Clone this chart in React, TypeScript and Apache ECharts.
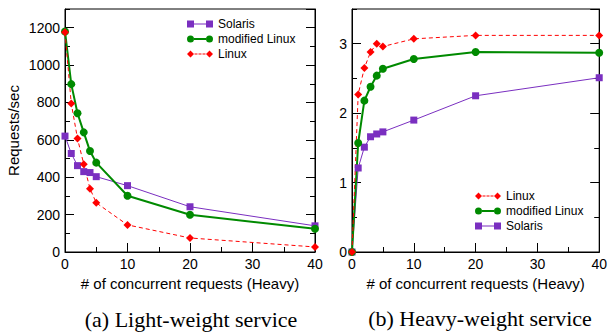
import React, { useEffect, useRef } from "react";
import * as echarts from "echarts";

const xValues = [0, 1, 2, 3, 4, 5, 10, 20, 40];
const lightSolaris = [620, 527, 462, 430, 425, 403, 355, 242, 140];
const lightModified = [1180, 898, 742, 640, 540, 478, 301, 199, 124];
const lightLinux = [1175, 795, 607, 470, 339, 263, 145, 75, 27];
const heavyLinux = [0, 2.27, 2.65, 2.88, 3.0, 2.96, 3.07, 3.12, 3.12];
const heavyModified = [0, 1.57, 2.18, 2.38, 2.54, 2.64, 2.78, 2.88, 2.87];
const heavySolaris = [0, 1.21, 1.51, 1.66, 1.7, 1.73, 1.9, 2.25, 2.51];

const xTitle = "# of concurrent requests (Heavy)";
const yTitle = "Requests/sec";
const captionA = "(a) Light-weight service";
const captionB = "(b) Heavy-weight service";

const PURPLE = "#7a2fc0";
const GREEN = "#008a00";
const RED = "#ff0000";
const FONT = "Liberation Sans";

const iconSolaris = "path://M0,0h7v7h-7zM19,0h7v7h-7zM7,3h12v1h-12z";
const iconModified =
  "path://M0,3.5a3.5,3.5,0,1,0,7,0a3.5,3.5,0,1,0,-7,0zM19,3.5a3.5,3.5,0,1,0,7,0a3.5,3.5,0,1,0,-7,0zM7,2.6h12v1.8h-12z";
const iconLinux =
  "path://M3.5,0L7,3.5L3.5,7L0,3.5zM22.5,0L26,3.5L22.5,7L19,3.5zM7.5,3h3v1h-3zM11.5,3h3v1h-3zM15.5,3h3v1h-3z";

const zip = (ys: number[]) => xValues.map((x, i) => [x, ys[i]]);
const plain = (v: number) => String(v);

function xAxes(grid: number) {
  return [
    {
      gridIndex: grid,
      type: "value",
      min: 0,
      max: 40,
      interval: 10,
      position: "bottom",
      axisLine: { show: true, lineStyle: { color: "#000", width: 1 } },
      axisTick: { show: true, inside: true, length: 9, lineStyle: { color: "#000" } },
      axisLabel: { color: "#000", fontSize: 14, fontFamily: FONT, margin: 5, formatter: plain },
      splitLine: { show: false },
      name: xTitle,
      nameLocation: "middle",
      nameGap: 22,
      nameTextStyle: { color: "#000", fontSize: 15, fontFamily: FONT },
    },
    {
      gridIndex: grid,
      type: "value",
      min: 0,
      max: 40,
      interval: 5,
      position: "bottom",
      axisLine: { show: false },
      axisTick: { show: true, inside: true, length: 5, lineStyle: { color: "#000" } },
      axisLabel: { show: false },
      splitLine: { show: false },
    },
  ];
}

function yAxes(grid: number, max: number, major: number, minor: number, withName: boolean) {
  const base = {
    gridIndex: grid,
    type: "value",
    min: 0,
    max,
    splitLine: { show: false },
  };
  return [
    {
      ...base,
      interval: major,
      position: "left",
      axisLine: { show: true, lineStyle: { color: "#000", width: 1 } },
      axisTick: { show: true, inside: true, length: 9, lineStyle: { color: "#000" } },
      axisLabel: {
        color: "#000",
        fontSize: 14,
        fontFamily: FONT,
        margin: 5,
        showMaxLabel: false,
        formatter: plain,
      },
      ...(withName
        ? {
            name: yTitle,
            nameLocation: "middle",
            nameGap: 44,
            nameTextStyle: { color: "#000", fontSize: 15, fontFamily: FONT },
          }
        : {}),
    },
    {
      ...base,
      interval: minor,
      position: "left",
      axisLine: { show: false },
      axisTick: { show: true, inside: true, length: 5, lineStyle: { color: "#000" } },
      axisLabel: { show: false },
    },
    {
      ...base,
      interval: major,
      position: "right",
      axisLine: { show: true, lineStyle: { color: "#000", width: 1 } },
      axisTick: { show: true, inside: true, length: 9, lineStyle: { color: "#000" } },
      axisLabel: { show: false },
    },
    {
      ...base,
      interval: minor,
      position: "right",
      axisLine: { show: false },
      axisTick: { show: true, inside: true, length: 5, lineStyle: { color: "#000" } },
      axisLabel: { show: false },
    },
  ];
}

function solaris(xi: number, yi: number, ys: number[]) {
  return {
    name: "Solaris",
    type: "line",
    xAxisIndex: xi,
    yAxisIndex: yi,
    data: zip(ys),
    symbol: "rect",
    symbolSize: 7,
    lineStyle: { color: PURPLE, width: 1 },
    itemStyle: { color: PURPLE },
  };
}
function modified(xi: number, yi: number, ys: number[]) {
  return {
    name: "modified Linux",
    type: "line",
    xAxisIndex: xi,
    yAxisIndex: yi,
    data: zip(ys),
    symbol: "circle",
    symbolSize: 8,
    lineStyle: { color: GREEN, width: 2 },
    itemStyle: { color: GREEN },
  };
}
function linux(xi: number, yi: number, ys: number[]) {
  return {
    name: "Linux",
    type: "line",
    xAxisIndex: xi,
    yAxisIndex: yi,
    data: zip(ys),
    symbol: "diamond",
    symbolSize: 8,
    lineStyle: { color: RED, width: 1, type: [4, 3] },
    itemStyle: { color: RED },
  };
}

const legendBase = {
  orient: "vertical",
  padding: 0,
  itemWidth: 26,
  itemHeight: 7,
  itemGap: 1,
  itemStyle: { borderWidth: 0 },
  textStyle: { color: "#000", fontSize: 12, fontFamily: FONT, lineHeight: 14 },
  selectedMode: false,
};

export default function App() {
  const ref = useRef<HTMLDivElement>(null);
  useEffect(() => {
    if (!ref.current) return;
    const chart = echarts.init(ref.current, null, { renderer: "svg" });
    chart.setOption({
      animation: false,
      backgroundColor: "#fff",
      grid: [
        { left: 65, top: 9, width: 250, height: 243, show: true, borderColor: "#000", borderWidth: 1 },
        { left: 352, top: 9, width: 251, height: 243, show: true, borderColor: "#000", borderWidth: 1 },
      ],
      xAxis: [...xAxes(0), ...xAxes(1)],
      yAxis: [...yAxes(0, 1300, 200, 100, true), ...yAxes(1, 3.5, 1, 0.5, false)],
      legend: [
        {
          ...legendBase,
          left: 187,
          top: 17,
          data: [
            { name: "Solaris", icon: iconSolaris },
            { name: "modified Linux", icon: iconModified },
            { name: "Linux", icon: iconLinux },
          ],
        },
        {
          ...legendBase,
          left: 475,
          top: 189,
          data: [
            { name: "Linux", icon: iconLinux },
            { name: "modified Linux", icon: iconModified },
            { name: "Solaris", icon: iconSolaris },
          ],
        },
      ],
      series: [
        solaris(0, 0, lightSolaris),
        modified(0, 0, lightModified),
        linux(0, 0, lightLinux),
        solaris(2, 4, heavySolaris),
        modified(2, 4, heavyModified),
        linux(2, 4, heavyLinux),
      ],
      graphic: [
        {
          type: "text",
          x: 191,
          y: 319,
          style: {
            text: captionA,
            fontSize: 22,
            fontFamily: "Liberation Serif",
            fill: "#000",
            align: "center",
            verticalAlign: "middle",
          },
        },
        {
          type: "text",
          x: 480,
          y: 318,
          style: {
            text: captionB,
            fontSize: 22,
            fontFamily: "Liberation Serif",
            fill: "#000",
            align: "center",
            verticalAlign: "middle",
          },
        },
      ],
    });
    return () => chart.dispose();
  }, []);
  return (
    <div
      ref={ref}
      style={{ position: "absolute", left: 0, top: 0, width: 610, height: 333 }}
    />
  );
}
